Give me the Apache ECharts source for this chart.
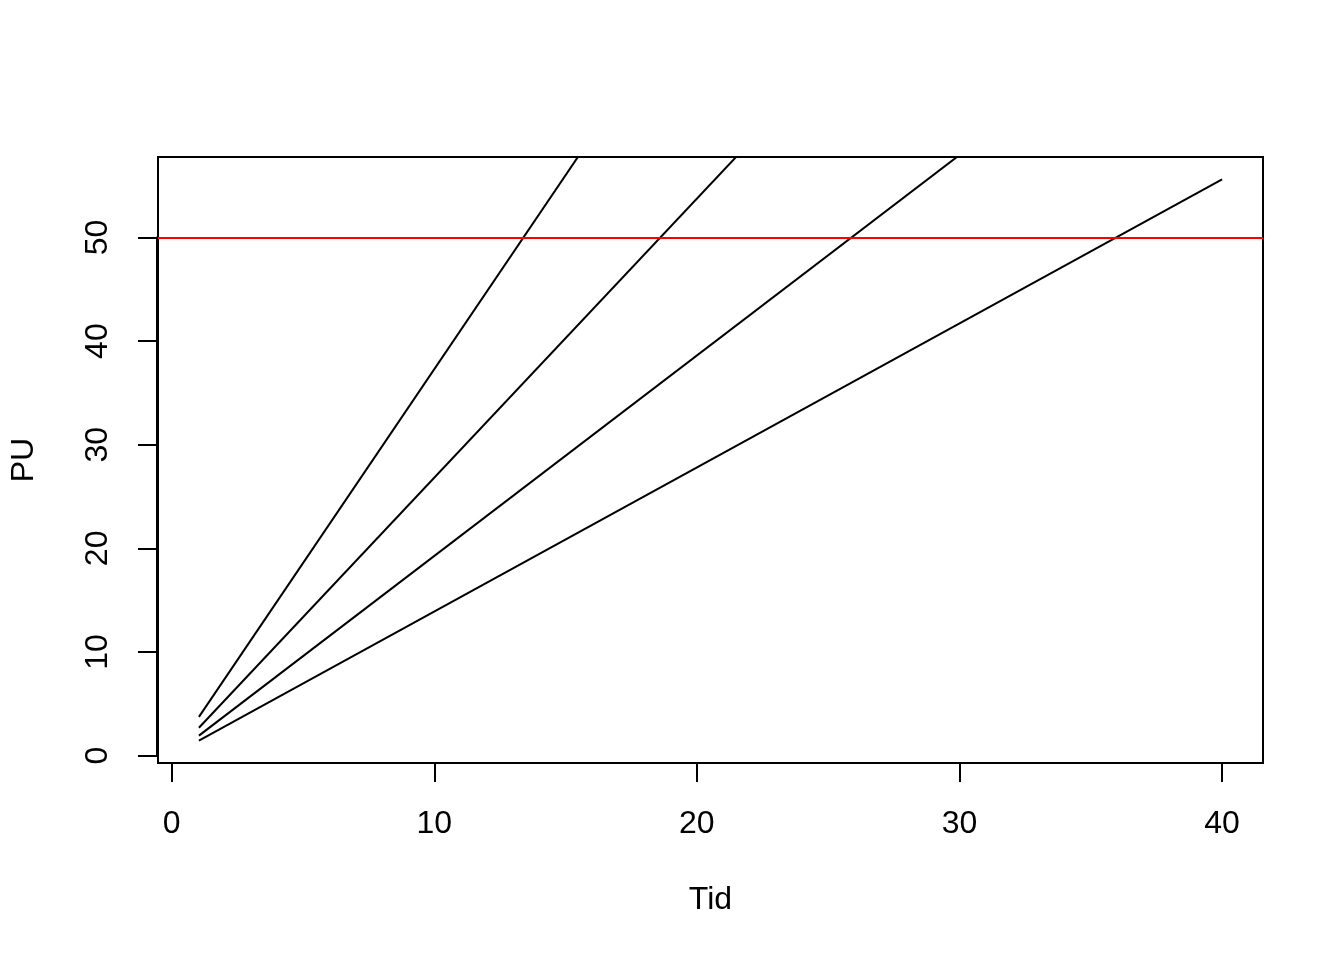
<!DOCTYPE html>
<html>
<head>
<meta charset="utf-8">
<script src="https://cdn.jsdelivr.net/npm/echarts@6/dist/echarts.min.js"></script>
<style>html,body{margin:0;padding:0;background:#fff}#c{width:1344px;height:960px}</style>
</head>
<body>
<div id="c"></div>
<script>
// Data
const tid = [1, 40];
const line1 = [3.74, 149.6];
const line2 = [2.69, 107.6];
const line3 = [1.93, 77.3];
const line4 = [1.45, 55.6];
const threshold = 50;
const xTicks = [0, 10, 20, 30, 40];
const yTicks = [0, 10, 20, 30, 40, 50];
const xTitle = 'Tid';
const yTitle = 'PU';

const W = 1344, H = 960;
const plotL = 157, plotR = 1263, plotT = 157, plotB = 763;
// R-style 4% padding
const xr = [Math.min(...tid), Math.max(...tid)];
const xpad = (xr[1] - xr[0]) * 0.04;
const xmin = xr[0] - xpad, xmax = xr[1] + xpad;
const yr = [Math.min(...line4), Math.max(...line4)];
const ypad = (yr[1] - yr[0]) * 0.04;
const ymin = yr[0] - ypad, ymax = yr[1] + ypad;
const kx = (plotR - plotL) / (xmax - xmin);
const ky = (plotB - plotT) / (ymax - ymin);
const x0 = xTicks[0], x1 = xTicks[xTicks.length - 1];
const y0 = yTicks[0], y1 = yTicks[yTicks.length - 1];
const axL = plotL + (x0 - xmin) * kx;
const axR = plotL + (x1 - xmin) * kx;
const axB = plotB - (y0 - ymin) * ky;
const axT = plotB - (y1 - ymin) * ky;

const font = 'Liberation Sans';
const mk = arr => tid.map((t, i) => [t, arr[i]]);
const lineSeries = [line1, line2, line3, line4].map(a => ({
  type: 'line', xAxisIndex: 0, yAxisIndex: 0, data: mk(a), symbol: 'none',
  clip: true, lineStyle: { color: '#000', width: 2 }, silent: true, animation: false
}));
lineSeries[0].markLine = {
  silent: true, symbol: 'none', animation: false,
  label: { show: false },
  lineStyle: { color: '#ff0000', width: 2, type: 'solid' },
  data: [{ yAxis: threshold }]
};

const hidden = { axisLine: { show: false }, axisTick: { show: false }, axisLabel: { show: false }, splitLine: { show: false } };

const chart = echarts.init(document.getElementById('c'), null, { renderer: 'canvas' });
chart.setOption({
  backgroundColor: '#fff',
  animation: false,
  grid: [
    { left: plotL, right: W - plotR, top: plotT, bottom: H - plotB, show: true, borderColor: '#000', borderWidth: 2, backgroundColor: 'transparent' },
    { left: axL, right: W - axR, top: axT, bottom: H - axB, show: false }
  ],
  xAxis: [
    Object.assign({ type: 'value', gridIndex: 0, min: xmin, max: xmax,
      name: xTitle, nameLocation: 'middle', nameGap: 121,
      nameTextStyle: { color: '#000', fontSize: 32, fontFamily: font } }, hidden),
    { type: 'value', gridIndex: 1, min: x0, max: x1, interval: 10, offset: plotB - axB,
      axisLine: { show: true, onZero: false, lineStyle: { color: '#000', width: 2 } },
      axisTick: { show: true, inside: false, length: 19, lineStyle: { color: '#000', width: 2 } },
      axisLabel: { show: true, color: '#000', fontSize: 32, fontFamily: font, margin: 45 },
      splitLine: { show: false }
    }
  ],
  yAxis: [
    Object.assign({ type: 'value', gridIndex: 0, min: ymin, max: ymax,
      name: yTitle, nameLocation: 'middle', nameGap: 118, nameRotate: 90,
      nameTextStyle: { color: '#000', fontSize: 32, fontFamily: font } }, hidden),
    { type: 'value', gridIndex: 1, min: y0, max: y1, interval: 10, offset: axL - plotL,
      axisLine: { show: true, onZero: false, lineStyle: { color: '#000', width: 2 } },
      axisTick: { show: true, inside: false, length: 19, lineStyle: { color: '#000', width: 2 } },
      axisLabel: { show: true, color: '#000', fontSize: 32, fontFamily: font, margin: 43, rotate: 90, align: 'center', verticalAlign: 'bottom' },
      splitLine: { show: false }
    }
  ],
  series: lineSeries
});
</script>
</body>
</html>
